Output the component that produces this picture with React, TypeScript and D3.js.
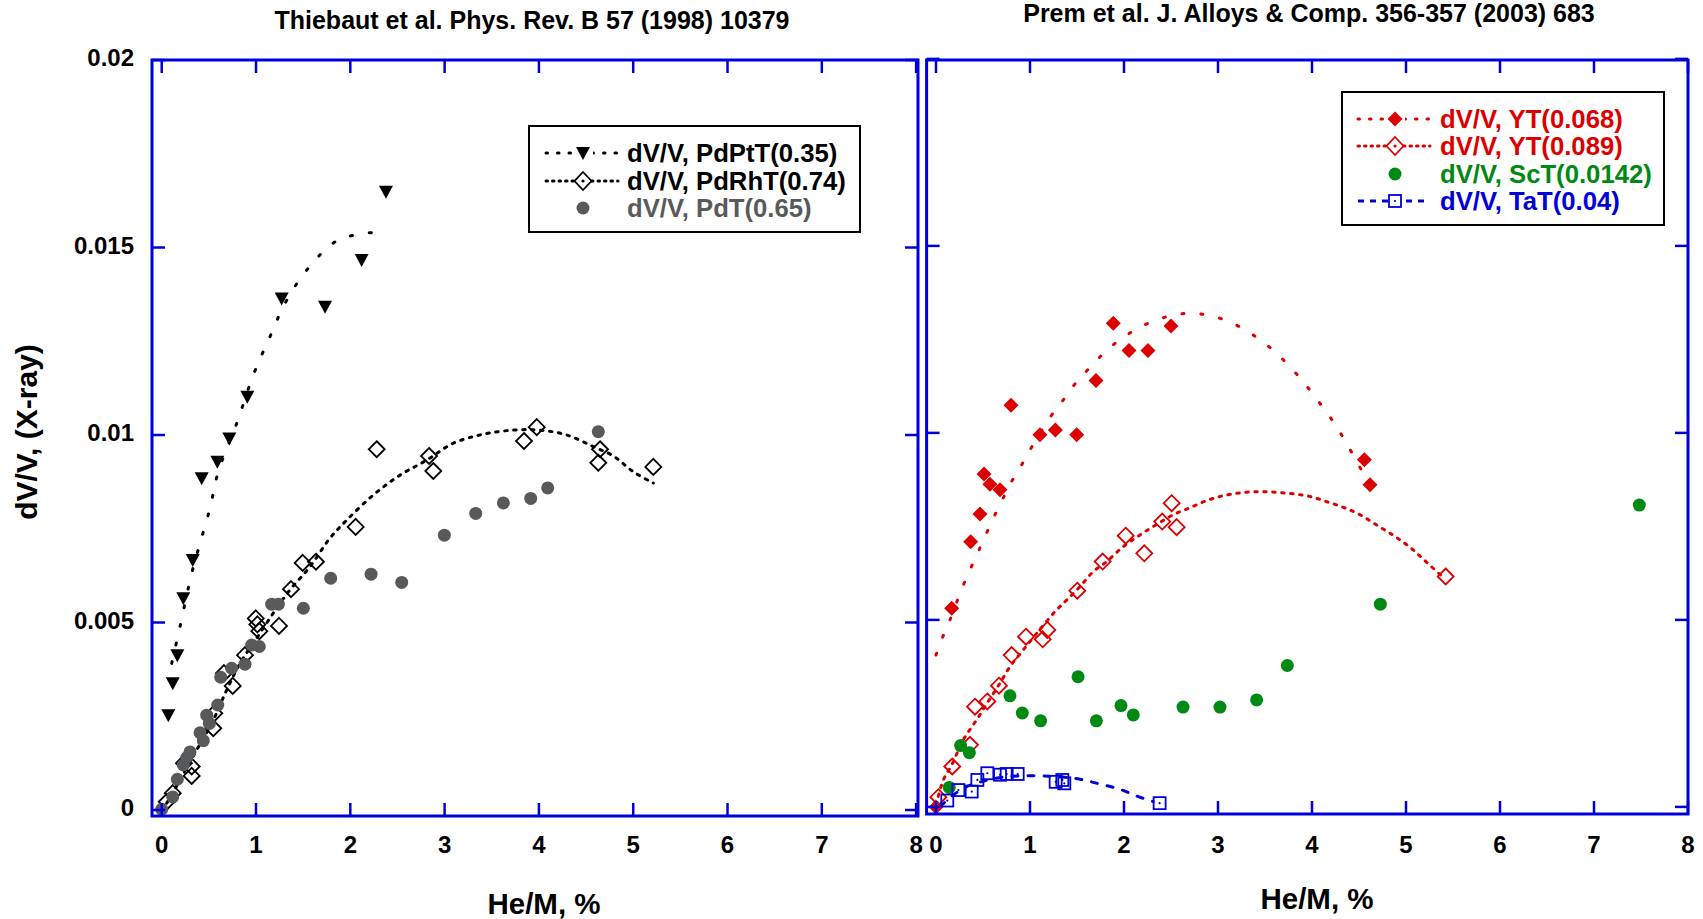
import React from 'react';
import * as d3 from 'd3';

const FONT = '"Liberation Sans", Arial, Helvetica, sans-serif';
const RED = '#dd0000';
const GREEN = '#008a14';
const BLUE = '#0000dd';
const GRAY = '#58595b';

type P = [number, number];

const xTicks = [0, 1, 2, 3, 4, 5, 6, 7, 8];
const xTickLabels = ['0', '1', '2', '3', '4', '5', '6', '7', '8'];
const yTicks = [0, 0.005, 0.01, 0.015, 0.02];
const yTickLabels = ['0', '0.005', '0.01', '0.015', '0.02'];

const leftTitle = 'Thiebaut et al. Phys. Rev. B 57 (1998) 10379';
const rightTitle = 'Prem et al. J. Alloys & Comp. 356-357 (2003) 683';
const xAxisTitle = 'He/M, %';
const yAxisTitle = 'dV/V, (X-ray)';

// ---- Left panel data ----
const pdptT: P[] = [
  [0.07, 0.00253], [0.117, 0.00338], [0.166, 0.00413], [0.229, 0.00565], [0.329, 0.00667],
  [0.424, 0.00885], [0.59, 0.00929], [0.717, 0.00991], [0.908, 0.01102], [1.272, 0.01364],
  [1.732, 0.01342], [2.12, 0.01467], [2.378, 0.01649],
];
const pdptTFit: P[] = [
  [0.106, 0.00391], [0.194, 0.00489], [0.318, 0.00631], [0.406, 0.00711], [0.512, 0.00805],
  [0.6, 0.00902], [0.795, 0.01031], [0.979, 0.01165], [1.141, 0.01258], [1.308, 0.01351],
  [1.538, 0.0144], [1.873, 0.0152], [2.238, 0.0154],
];
const pdrhT: P[] = [
  [0.053, 0.00022], [0.117, 0.00045], [0.236, 0.00125], [0.318, 0.00116], [0.318, 0.00091],
  [0.547, 0.00218], [0.558, 0.00258], [0.66, 0.00365], [0.753, 0.00331], [0.883, 0.00413],
  [0.997, 0.00511], [1.014, 0.00495], [1.035, 0.00477], [1.244, 0.00491], [1.371, 0.00589],
  [1.495, 0.00659], [1.636, 0.00662], [2.057, 0.00755], [2.28, 0.00962], [2.835, 0.00944],
  [2.88, 0.00904], [3.842, 0.00984], [3.977, 0.01021], [4.63, 0.00926], [4.648, 0.00962],
  [5.213, 0.00915],
];
const pdrhTFit: P[] = [
  [0.053, 0.00018], [0.194, 0.0008], [0.371, 0.0016], [0.547, 0.0024], [0.689, 0.0032],
  [0.83, 0.00391], [1.007, 0.00458], [1.183, 0.00525], [1.36, 0.00587], [1.573, 0.00649],
  [1.785, 0.00725], [1.962, 0.00773], [2.244, 0.0084], [2.527, 0.00893], [2.81, 0.00933],
  [3.092, 0.00978], [3.41, 0.01002], [3.729, 0.01013], [4.012, 0.01013], [4.295, 0.01],
  [4.577, 0.00969], [4.789, 0.00944], [5.001, 0.00902], [5.213, 0.00872],
];
const pdT: P[] = [
  [0, 0.00002], [0.117, 0.00035], [0.166, 0.00082], [0.229, 0.0012], [0.265, 0.0014],
  [0.3, 0.00155], [0.441, 0.00185], [0.406, 0.00206], [0.505, 0.00231], [0.477, 0.00253],
  [0.594, 0.0028], [0.626, 0.00354], [0.742, 0.00378], [0.883, 0.00389], [0.954, 0.0044],
  [1.035, 0.00436], [1.166, 0.00549], [1.237, 0.00549], [1.502, 0.00538], [1.792, 0.00618],
  [2.22, 0.00629], [2.545, 0.00607], [2.997, 0.00733], [3.33, 0.00791], [3.623, 0.00819],
  [3.913, 0.00831], [4.093, 0.00859], [4.63, 0.01009],
];

// ---- Right panel data ----
const yt068: P[] = [
  [0, 0.0], [0.167, 0.00531], [0.369, 0.00709], [0.468, 0.00783], [0.511, 0.0089],
  [0.574, 0.00863], [0.681, 0.00848], [0.798, 0.01074], [1.106, 0.00995], [1.27, 0.01008],
  [1.497, 0.00995], [1.702, 0.0114], [1.886, 0.01293], [2.053, 0.0122], [2.255, 0.0122],
  [2.5, 0.01286], [4.557, 0.00928], [4.617, 0.00861],
];
const yt068Fit: P[] = [
  [0, 0.00406], [0.071, 0.00454], [0.149, 0.005], [0.284, 0.00589], [0.369, 0.00638],
  [0.45, 0.00683], [0.529, 0.00727], [0.61, 0.00772], [0.705, 0.00821], [0.795, 0.00866],
  [0.894, 0.00907], [0.989, 0.0095], [1.22, 0.01044], [1.348, 0.01086], [1.479, 0.01131],
  [1.646, 0.01177], [1.83, 0.01224], [2.021, 0.0126], [2.181, 0.01284], [2.369, 0.01304],
  [2.553, 0.01316], [2.737, 0.0132], [2.904, 0.01314], [3.093, 0.013], [3.277, 0.01277],
  [3.457, 0.01247], [3.624, 0.01213], [3.812, 0.01164], [3.954, 0.01122], [4.096, 0.01075],
  [4.22, 0.01032], [4.333, 0.00987], [4.433, 0.00943], [4.539, 0.00895], [4.599, 0.0087],
];
const yt089: P[] = [
  [0.025, 0.00026], [0.173, 0.00108], [0.362, 0.00166], [0.415, 0.00268], [0.546, 0.00282],
  [0.67, 0.00324], [0.805, 0.00406], [0.957, 0.00455], [1.135, 0.00448], [1.184, 0.00473],
  [1.503, 0.00578], [1.773, 0.00656], [2.018, 0.00725], [2.216, 0.00678], [2.407, 0.00763],
  [2.507, 0.00812], [2.56, 0.00748], [5.422, 0.00616],
];
const yt089Fit: P[] = [
  [0, 0.00005], [0.078, 0.00072], [0.167, 0.00112], [0.29, 0.00179], [0.433, 0.00233],
  [0.556, 0.00282], [0.681, 0.00331], [0.787, 0.00375], [0.929, 0.0042], [1.071, 0.00464],
  [1.266, 0.00522], [1.39, 0.00553], [1.532, 0.00589], [1.673, 0.00629], [1.816, 0.00656],
  [1.993, 0.00696], [2.17, 0.00727], [2.34, 0.00754], [2.524, 0.00781], [2.702, 0.008],
  [2.88, 0.00819], [3.056, 0.00832], [3.252, 0.0084], [3.447, 0.00843], [3.624, 0.00841],
  [3.801, 0.00837], [3.979, 0.0083], [4.156, 0.00816], [4.333, 0.00801], [4.511, 0.00781],
  [4.705, 0.00751], [4.883, 0.00723], [5.043, 0.00694], [5.22, 0.00654], [5.397, 0.00613],
];
const scT: P[] = [
  [0.141, 0.00052], [0.262, 0.00164], [0.355, 0.00145], [0.787, 0.00297], [0.918, 0.00251],
  [1.113, 0.0023], [1.511, 0.00348], [1.706, 0.0023], [1.968, 0.00271], [2.099, 0.00246],
  [2.628, 0.00267], [3.021, 0.00267], [3.411, 0.00286], [3.738, 0.00378], [4.727, 0.00542],
  [7.482, 0.00807],
];
const taT: P[] = [
  [0.12, 0.00017], [0.238, 0.00045], [0.38, 0.00041], [0.44, 0.00072], [0.546, 0.0009],
  [0.681, 0.00086], [0.752, 0.00088], [0.869, 0.00088], [1.273, 0.00067], [1.344, 0.00072],
  [1.365, 0.00063], [2.379, 0.0001],
];
const taTFit: P[] = [
  [0.043, 0.00001], [0.184, 0.00032], [0.327, 0.00054], [0.521, 0.0007], [0.752, 0.00081],
  [1.035, 0.00083], [1.284, 0.00081], [1.532, 0.00074], [1.745, 0.00061], [1.957, 0.00047],
  [2.135, 0.00029], [2.312, 0.00014],
];

const leftLegend = ['dV/V, PdPtT(0.35)', 'dV/V, PdRhT(0.74)', 'dV/V, PdT(0.65)'];
const rightLegend = ['dV/V, YT(0.068)', 'dV/V, YT(0.089)', 'dV/V, ScT(0.0142)', 'dV/V, TaT(0.04)'];

const SPARSE = '2,17';
const DENSE = '2.5,6.5';
const DASHED = '6,10';

type MarkerKind = 'tri' | 'diamondFill' | 'diamondOpen' | 'circle' | 'square';

function Marker({ kind, x, y, color }: { kind: MarkerKind; x: number; y: number; color: string }) {
  if (kind === 'tri') {
    return <path d={`M${x - 7},${y - 6}L${x + 7},${y - 6}L${x},${y + 7}Z`} fill={color} />;
  }
  if (kind === 'diamondFill') {
    return <path d={`M${x},${y - 7.5}L${x + 7.5},${y}L${x},${y + 7.5}L${x - 7.5},${y}Z`} fill={color} />;
  }
  if (kind === 'diamondOpen') {
    return (
      <path d={`M${x},${y - 8}L${x + 8},${y}L${x},${y + 8}L${x - 8},${y}Z`} fill="none" stroke={color} strokeWidth={1.8} />
    );
  }
  if (kind === 'circle') {
    return <circle cx={x} cy={y} r={6.5} fill={color} />;
  }
  return (
    <g>
      <rect x={x - 6} y={y - 6} width={12} height={12} fill="none" stroke={color} strokeWidth={1.8} />
      <circle cx={x} cy={y} r={1.1} fill={color} />
    </g>
  );
}

interface Panel {
  left: number; right: number; top: number; bottom: number;
  xDomain: [number, number]; yDomain: [number, number];
}

const leftPanel: Panel = { left: 152, right: 918, top: 60, bottom: 816, xDomain: [-0.103, 8.02], yDomain: [-0.00016, 0.02] };
const rightPanel: Panel = { left: 926.6, right: 1688, top: 60, bottom: 814, xDomain: [-0.1, 8.0], yDomain: [-0.00019, 0.01997] };

function Frame({ p, sx, sy, yLabels }: { p: Panel; sx: d3.ScaleLinear<number, number>; sy: d3.ScaleLinear<number, number>; yLabels: boolean }) {
  const TL = 13;
  return (
    <g>
      {xTicks.map((t, i) => (
        <g key={'x' + i}>
          <line x1={sx(t)} x2={sx(t)} y1={p.bottom} y2={p.bottom - TL} stroke={BLUE} strokeWidth={2.5} />
          <line x1={sx(t)} x2={sx(t)} y1={p.top} y2={p.top + TL} stroke={BLUE} strokeWidth={2.5} />
          <text x={sx(t)} y={853} textAnchor="middle" fontFamily={FONT} fontWeight="bold" fontSize={24} fill="#000">
            {xTickLabels[i]}
          </text>
        </g>
      ))}
      {yTicks.map((t, i) => (
        <g key={'y' + i}>
          <line x1={p.left} x2={p.left + TL} y1={sy(t)} y2={sy(t)} stroke={BLUE} strokeWidth={2.5} />
          <line x1={p.right} x2={p.right - TL} y1={sy(t)} y2={sy(t)} stroke={BLUE} strokeWidth={2.5} />
          {yLabels && (
            <text x={134} y={sy(t) + 6} textAnchor="end" fontFamily={FONT} fontWeight="bold" fontSize={24} fill="#000">
              {yTickLabels[i]}
            </text>
          )}
        </g>
      ))}
      <rect x={p.left} y={p.top} width={p.right - p.left} height={p.bottom - p.top} fill="none" stroke={BLUE} strokeWidth={3} />
    </g>
  );
}

export default function App() {
  const lx = d3.scaleLinear().domain(leftPanel.xDomain).range([leftPanel.left, leftPanel.right]);
  const ly = d3.scaleLinear().domain(leftPanel.yDomain).range([leftPanel.bottom, leftPanel.top]);
  const rx = d3.scaleLinear().domain(rightPanel.xDomain).range([rightPanel.left, rightPanel.right]);
  const ry = d3.scaleLinear().domain(rightPanel.yDomain).range([rightPanel.bottom, rightPanel.top]);

  const lineL = d3.line<P>().x((d) => lx(d[0])).y((d) => ly(d[1])).curve(d3.curveCatmullRom);
  const lineR = d3.line<P>().x((d) => rx(d[0])).y((d) => ry(d[1])).curve(d3.curveCatmullRom);

  const legendRowsL = [153, 181, 208];
  const legendRowsR = [119, 146, 174, 201];
  const mL = 583;
  const mR = 1395;
  const LFS = 25.7;

  return (
    <svg width={1703} height={919} style={{ position: 'absolute', left: 0, top: 0, background: '#fff' }}>
      <rect x={0} y={0} width={1703} height={919} fill="#fff" />
      {/* Titles */}
      <text x={532} y={29} textAnchor="middle" fontFamily={FONT} fontWeight="bold" fontSize={25}>{leftTitle}</text>
      <text x={1309} y={22} textAnchor="middle" fontFamily={FONT} fontWeight="bold" fontSize={25}>{rightTitle}</text>

      {/* Axis titles */}
      <text transform="translate(26,432) rotate(-90)" textAnchor="middle" dominantBaseline="central" fontFamily={FONT} fontWeight="bold" fontSize={30}>
        {yAxisTitle}
      </text>
      <text x={544} y={914} textAnchor="middle" fontFamily={FONT} fontWeight="bold" fontSize={29.5}>{xAxisTitle}</text>
      <text x={1317} y={909} textAnchor="middle" fontFamily={FONT} fontWeight="bold" fontSize={29.5}>{xAxisTitle}</text>

      {/* Left panel */}
      <g>
        <path d={lineL(pdptTFit) || ''} fill="none" stroke="#000" strokeWidth={3} strokeDasharray={SPARSE} strokeLinecap="round" />
        <path d={lineL(pdrhTFit) || ''} fill="none" stroke="#000" strokeWidth={3} strokeDasharray={DENSE} strokeLinecap="round" />
        {pdptT.map((d, i) => <Marker key={'a' + i} kind="tri" x={lx(d[0])} y={ly(d[1])} color="#000" />)}
        {pdrhT.map((d, i) => <Marker key={'b' + i} kind="diamondOpen" x={lx(d[0])} y={ly(d[1])} color="#000" />)}
        {pdT.map((d, i) => <Marker key={'c' + i} kind="circle" x={lx(d[0])} y={ly(d[1])} color={GRAY} />)}
        <Frame p={leftPanel} sx={lx} sy={ly} yLabels={true} />
      </g>

      {/* Right panel */}
      <g>
        <path d={lineR(yt068Fit) || ''} fill="none" stroke={RED} strokeWidth={3} strokeDasharray={SPARSE} strokeLinecap="round" />
        <path d={lineR(yt089Fit) || ''} fill="none" stroke={RED} strokeWidth={3} strokeDasharray={DENSE} strokeLinecap="round" />
        <path d={lineR(taTFit) || ''} fill="none" stroke={BLUE} strokeWidth={3} strokeDasharray={DASHED} strokeLinecap="round" />
        {yt068.map((d, i) => <Marker key={'d' + i} kind="diamondFill" x={rx(d[0])} y={ry(d[1])} color={RED} />)}
        {yt089.map((d, i) => <Marker key={'e' + i} kind="diamondOpen" x={rx(d[0])} y={ry(d[1])} color={RED} />)}
        {scT.map((d, i) => <Marker key={'f' + i} kind="circle" x={rx(d[0])} y={ry(d[1])} color={GREEN} />)}
        {taT.map((d, i) => <Marker key={'g' + i} kind="square" x={rx(d[0])} y={ry(d[1])} color={BLUE} />)}
        <Frame p={rightPanel} sx={rx} sy={ry} yLabels={false} />
      </g>

      {/* Left legend */}
      <g>
        <rect x={529} y={126} width={331} height={106} fill="#fff" stroke="#000" strokeWidth={2} />
        <line x1={546} x2={618} y1={legendRowsL[0]} y2={legendRowsL[0]} stroke="#000" strokeWidth={3} strokeDasharray="1.5,10" strokeLinecap="round" />
        <rect x={mL - 10} y={legendRowsL[0] - 9} width={20} height={18} fill="#fff" />
        <Marker kind="tri" x={mL} y={legendRowsL[0]} color="#000" />
        <line x1={546} x2={618} y1={legendRowsL[1]} y2={legendRowsL[1]} stroke="#000" strokeWidth={3} strokeDasharray="1.5,5" strokeLinecap="round" />
        <path d={`M${mL},${legendRowsL[1] - 9}L${mL + 8.5},${legendRowsL[1]}L${mL},${legendRowsL[1] + 9}L${mL - 8.5},${legendRowsL[1]}Z`} fill="#fff" stroke="#000" strokeWidth={1.8} />
        <circle cx={mL} cy={legendRowsL[1]} r={1.6} fill="#000" />
        <Marker kind="circle" x={mL} y={legendRowsL[2]} color={GRAY} />
        {leftLegend.map((t, i) => (
          <text key={t} x={627} y={legendRowsL[i] + 9} fontFamily={FONT} fontWeight="bold" fontSize={LFS} fill={i === 2 ? '#5a5a5a' : '#000'}>{t}</text>
        ))}
      </g>

      {/* Right legend */}
      <g>
        <rect x={1342} y={92} width={322} height={133} fill="#fff" stroke="#000" strokeWidth={2} />
        <line x1={1358} x2={1430} y1={legendRowsR[0]} y2={legendRowsR[0]} stroke={RED} strokeWidth={3} strokeDasharray="1.5,10" strokeLinecap="round" />
        <rect x={mR - 10} y={legendRowsR[0] - 9} width={20} height={18} fill="#fff" />
        <Marker kind="diamondFill" x={mR} y={legendRowsR[0]} color={RED} />
        <line x1={1358} x2={1430} y1={legendRowsR[1]} y2={legendRowsR[1]} stroke={RED} strokeWidth={3} strokeDasharray="1.5,5" strokeLinecap="round" />
        <path d={`M${mR},${legendRowsR[1] - 9}L${mR + 8.5},${legendRowsR[1]}L${mR},${legendRowsR[1] + 9}L${mR - 8.5},${legendRowsR[1]}Z`} fill="#fff" stroke={RED} strokeWidth={1.8} />
        <circle cx={mR} cy={legendRowsR[1]} r={1.6} fill={RED} />
        <Marker kind="circle" x={mR} y={legendRowsR[2]} color={GREEN} />
        <line x1={1358} x2={1430} y1={legendRowsR[3]} y2={legendRowsR[3]} stroke={BLUE} strokeWidth={3} strokeDasharray="6,6" />
        <rect x={mR - 6} y={legendRowsR[3] - 6} width={12} height={12} fill="#fff" stroke={BLUE} strokeWidth={1.8} />
        <circle cx={mR} cy={legendRowsR[3]} r={1.1} fill={BLUE} />
        {rightLegend.map((t, i) => (
          <text key={t} x={1440} y={legendRowsR[i] + 9} fontFamily={FONT} fontWeight="bold" fontSize={LFS} fill={[RED, RED, GREEN, BLUE][i]}>{t}</text>
        ))}
      </g>
    </svg>
  );
}
